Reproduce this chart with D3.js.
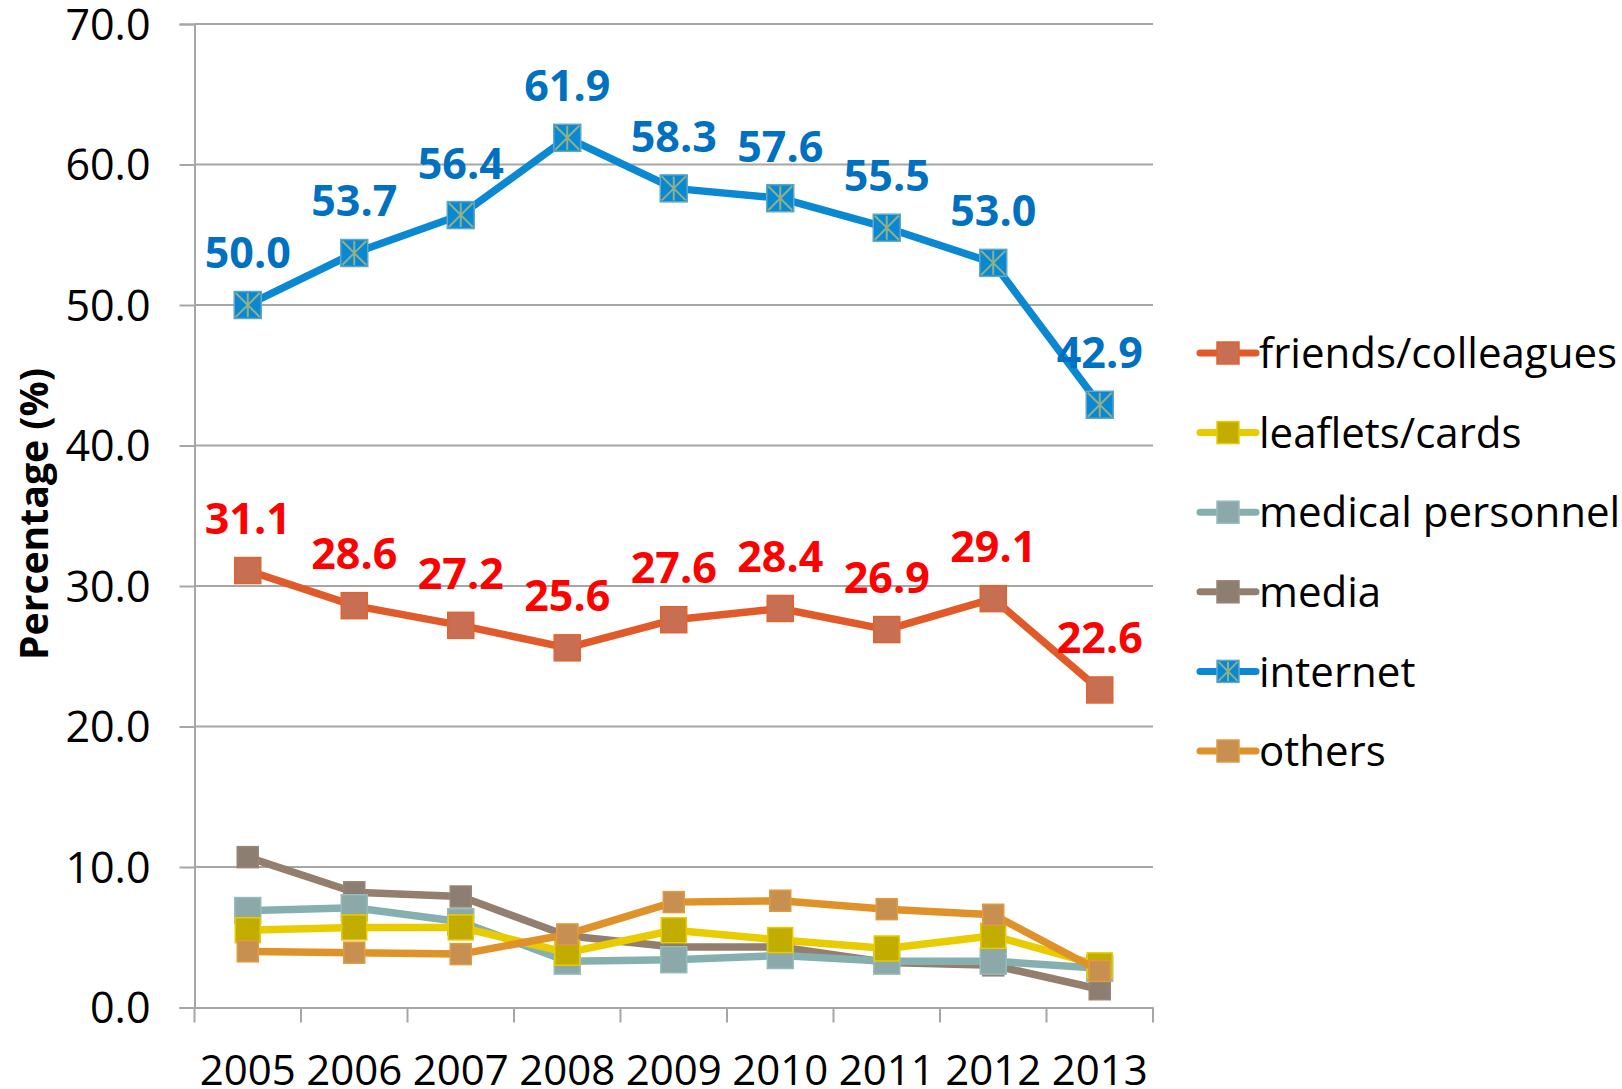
<!DOCTYPE html>
<html lang="en">
<head>
<meta charset="UTF-8">
<title>Percentage by source, 2005-2013</title>
<script src="https://d3js.org/d3.v7.min.js"></script>
<style>
  body { margin: 0; background: #fff; }
  svg { display: block; font-family: "Open Sans", "Noto Sans", sans-serif; }
  svg .tick text { font-family: "Open Sans", "Noto Sans", sans-serif; }
</style>
</head>
<body>
<div id="chart"></div>
<script>
// data
const years = ["2005", "2006", "2007", "2008", "2009", "2010", "2011", "2012", "2013"];
const friends  = [31.1, 28.6, 27.2, 25.6, 27.6, 28.4, 26.9, 29.1, 22.6];
const leaflets = [5.5, 5.7, 5.7, 3.9, 5.5, 4.8, 4.2, 5.1, 3.0];
const medical  = [6.9, 7.1, 6.1, 3.3, 3.4, 3.7, 3.3, 3.3, 2.8];
const media    = [10.7, 8.2, 7.9, 5.1, 4.3, 4.3, 3.2, 3.0, 1.3];
const internet = [50.0, 53.7, 56.4, 61.9, 58.3, 57.6, 55.5, 53.0, 42.9];
const others   = [4.0, 3.9, 3.8, 5.2, 7.5, 7.6, 7.0, 6.6, 2.6];
const yTicks = [0, 10, 20, 30, 40, 50, 60, 70];

const series = [
  {name: "friends/colleagues", values: friends,  line: "#E05A2A", fill: "#C86E52", edge: "#E0642E", size: 26, label: "#FF0000"},
  {name: "leaflets/cards",     values: leaflets, line: "#E8CC00", fill: "#C2AC00", edge: "#E8CC00", size: 25},
  {name: "medical personnel",  values: medical,  line: "#86B0B0", fill: "#8CA8A8", edge: "#94BCBC", size: 26},
  {name: "media",              values: media,    line: "#947E6E", fill: "#8C7E70", edge: "#9A8474", size: 21},
  {name: "internet",           values: internet, line: "#0A88D2", fill: "#0A88D2", edge: "#5FA8C8", size: 27, star: true, label: "#0070C0"},
  {name: "others",             values: others,   line: "#E0922A", fill: "#C89050", edge: "#E09A40", size: 21}
];
// draw order: internet and friends above the small ones
const drawOrder = ["media", "medical personnel", "leaflets/cards", "others", "friends/colleagues", "internet"];

const svg = d3.select("#chart").append("svg")
  .attr("width", 1622)
  .attr("height", 1089);

const plotLeft = 194.5, plotRight = 1153, plotTop = 24, plotBottom = 1007.5;

const x = d3.scaleBand().domain(years).range([plotLeft, plotRight]).padding(0);
const y = d3.scaleLinear().domain([0, 70]).range([plotBottom, plotTop]);
const cx = d => x(d) + x.bandwidth() / 2;

// gridlines
svg.append("g")
  .selectAll("line")
  .data(yTicks.filter(t => t > 0))
  .join("line")
    .attr("x1", plotLeft).attr("x2", plotRight)
    .attr("y1", d => y(d)).attr("y2", d => y(d))
    .attr("stroke", "#A6A6A6")
    .attr("stroke-width", 2);

// y axis
const yAxis = svg.append("g")
  .attr("transform", `translate(${plotLeft},0)`)
  .call(d3.axisLeft(y).tickValues(yTicks).tickFormat(d3.format(".1f")).tickSize(15).tickPadding(29));
yAxis.attr("font-family", null).attr("font-size", null);
yAxis.select(".domain").attr("stroke", "#A6A6A6").attr("stroke-width", 2);
yAxis.selectAll(".tick line").attr("stroke", "#A6A6A6").attr("stroke-width", 2);
yAxis.selectAll(".tick text")
  .attr("fill", "#000")
  .style("font-size", "43px")
  .attr("dy", "0.36em");

// x axis
const xAxis = svg.append("g")
  .attr("transform", `translate(0,${plotBottom})`)
  .call(d3.axisBottom(x).tickSize(0).tickPadding(0));
xAxis.attr("font-family", null).attr("font-size", null);
xAxis.select(".domain").attr("stroke", "#A6A6A6").attr("stroke-width", 2);
xAxis.selectAll(".tick text")
  .attr("fill", "#000")
  .attr("y", 77)
  .attr("dy", null)
  .style("font-size", "42px");
// category separators
xAxis.selectAll(".sep")
  .data(years.concat(["end"]))
  .join("line")
    .attr("class", "sep")
    .attr("x1", (d, i) => i < years.length ? x(d) : plotRight)
    .attr("x2", (d, i) => i < years.length ? x(d) : plotRight)
    .attr("y1", 0).attr("y2", 15)
    .attr("stroke", "#A6A6A6")
    .attr("stroke-width", 2);

// y axis title
svg.append("text")
  .attr("transform", `translate(34,514) rotate(-90)`)
  .attr("text-anchor", "middle")
  .attr("dy", "0.35em")
  .attr("textLength", 292)
  .attr("lengthAdjust", "spacingAndGlyphs")
  .style("font-family", "'Liberation Sans Narrow', 'Open Sans', sans-serif")
  .style("font-size", "40px")
  .style("font-weight", "bold")
  .text("Percentage (%)");

const line = d3.line()
  .x((d, i) => cx(years[i]))
  .y(d => y(d));

function drawMarker(g, s, px, py) {
  const ms = s.size;
  g.append("rect")
    .attr("x", px - ms / 2).attr("y", py - ms / 2)
    .attr("width", ms).attr("height", ms)
    .attr("fill", s.fill)
    .attr("stroke", s.edge)
    .attr("stroke-width", 1.5);
  if (s.star) {
    const r = ms / 2 - 1.5;
    g.append("path")
      .attr("d", `M${px - r},${py - r}L${px + r},${py + r}M${px - r},${py + r}L${px + r},${py - r}M${px},${py - r}L${px},${py + r}`)
      .attr("stroke", "#8FB088")
      .attr("stroke-width", 2)
      .attr("fill", "none");
  }
}

const plot = svg.append("g");
drawOrder.forEach(name => {
  const s = series.find(d => d.name === name);
  const g = plot.append("g");
  g.append("path")
    .datum(s.values)
    .attr("fill", "none")
    .attr("stroke", s.line)
    .attr("stroke-width", 7.5)
    .attr("stroke-linejoin", "round")
    .attr("d", line);
  s.values.forEach((v, i) => drawMarker(g, s, cx(years[i]), y(v)));
});

// data labels
series.filter(s => s.label).forEach(s => {
  svg.append("g")
    .selectAll("text")
    .data(s.values)
    .join("text")
      .attr("x", (d, i) => cx(years[i]))
      .attr("y", d => y(d) - 52)
      .attr("dy", "0.36em")
      .attr("text-anchor", "middle")
      .attr("fill", s.label)
      .style("font-size", "43px")
      .style("font-weight", "bold")
      .text(d => d.toFixed(1));
});

// legend
const legend = svg.append("g").attr("transform", "translate(1200,353)");
series.forEach((s, i) => {
  const g = legend.append("g").attr("transform", `translate(0,${i * 79.6})`);
  g.append("line")
    .attr("x1", 0).attr("x2", 56)
    .attr("y1", 0).attr("y2", 0)
    .attr("stroke", s.line)
    .attr("stroke-width", 7)
    .attr("stroke-linecap", "round");
  drawMarker(g, Object.assign({}, s, {size: 22}), 28, 0);
  g.append("text")
    .attr("x", 59)
    .attr("dy", "0.36em")
    .style("font-size", "42px")
    .text(s.name);
});
</script>
</body>
</html>
